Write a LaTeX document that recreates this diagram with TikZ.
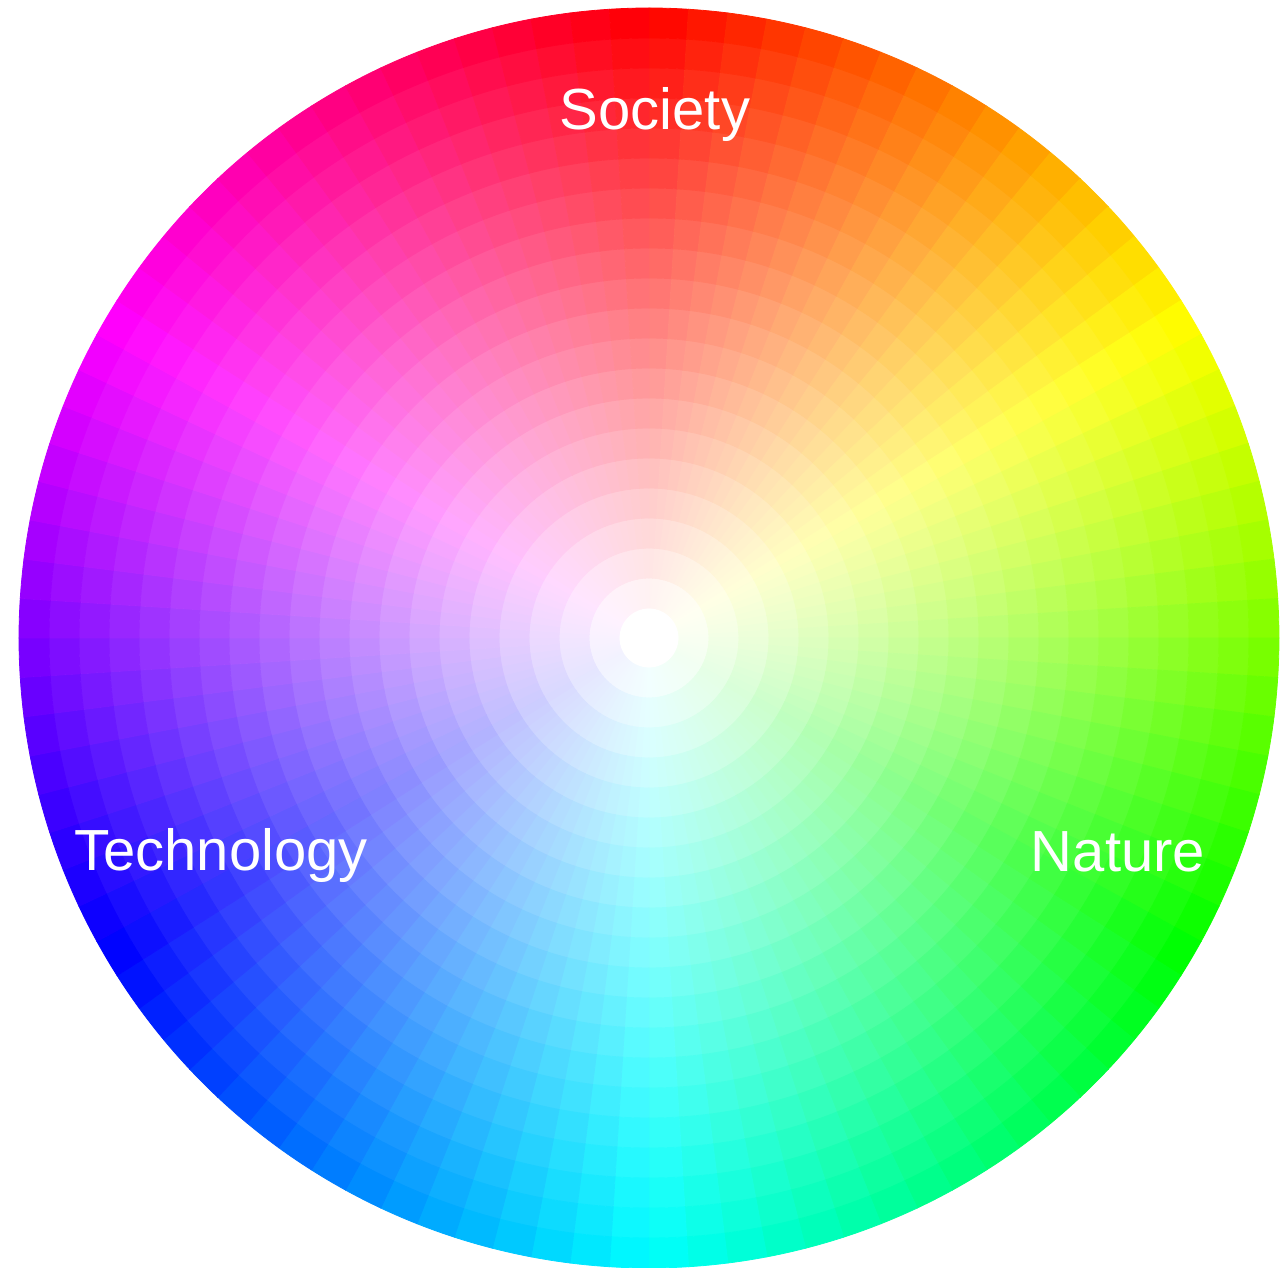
\documentclass[tikz,border=0pt]{standalone}
\usepackage{fontspec}
\newfontfamily\wheelfont{Liberation Sans}

\begin{document}
\begin{tikzpicture}[x=0.5pt,y=0.5pt,
    wheel label/.style={text=white,inner sep=0pt,anchor=base,
      font=\wheelfont\fontsize{29}{34}\selectfont},
    cell edge/.style={line width=0.4pt}]
  \useasboundingbox (-649,-630) rectangle (637,638);

  % hue runs clockwise from red at the top, saturation grows outwards
  \foreach \ring in {1,...,20}{
    \pgfmathsetmacro{\rin}{30*\ring}
    \pgfmathsetmacro{\rout}{30*\ring+30}
    \pgfmathsetmacro{\sat}{\ring/20}
    \foreach \sect in {0,...,99}{
      \pgfmathsetmacro{\hue}{3.6*\sect+1.8}
      \pgfmathsetmacro{\ta}{90-3.6*\sect}
      \pgfmathsetmacro{\tb}{\ta-3.6}
      \definecolor{cell}{Hsb}{\hue,\sat,1}
      \filldraw[cell,cell edge] (\ta:\rin) arc[start angle=\ta,end angle=\tb,radius=\rin]
        -- (\tb:\rout) arc[start angle=\tb,end angle=\ta,radius=\rout] -- cycle;
    }
  }

  \node[wheel label] (society) at (6,508) {Society};
  \node[wheel label] (technology) at (-428,-233) {Technology};
  \node[wheel label] (nature) at (469,-234) {Nature};
\end{tikzpicture}
\end{document}
